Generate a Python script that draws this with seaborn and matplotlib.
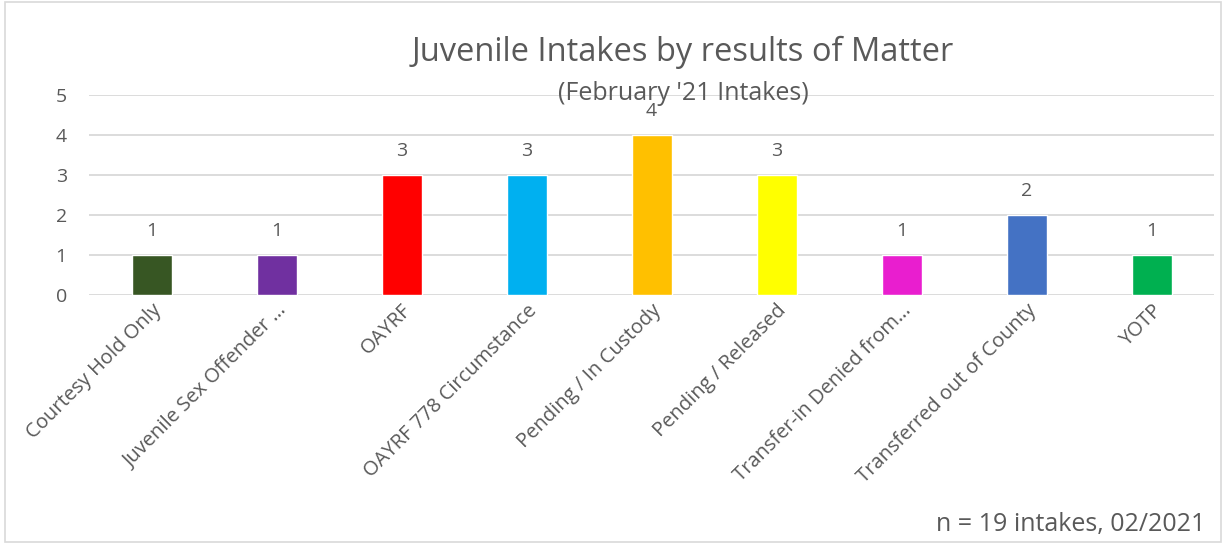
import matplotlib
matplotlib.use("Agg")
import matplotlib.pyplot as plt
import seaborn as sns
import pandas as pd
from matplotlib.patches import Rectangle

categories = ["Courtesy Hold Only", "Juvenile Sex Offender …", "OAYRF",
              "OAYRF 778 Circumstance", "Pending / In Custody", "Pending / Released",
              "Transfer-in Denied from…", "Transferred out of County", "YOTP"]
counts = [1, 1, 3, 3, 4, 3, 1, 2, 1]
colors = ["#375623", "#7030A0", "#FF0000", "#00B0F0", "#FFC000", "#FFFF00",
          "#E91ECF", "#4472C4", "#00B050"]
yticks = [0, 1, 2, 3, 4, 5]

sns.set_theme(style="white")
plt.rcParams['font.family'] = ['Open Sans', 'DejaVu Sans']
txt = "#595959"

df = pd.DataFrame({"cat": categories, "n": counts})
fig = plt.figure(figsize=(12.26, 5.44), dpi=100)
ax = fig.add_axes([89/1226, 1-295/544, (1214-89)/1226, 200/544])
sns.barplot(data=df, x="cat", y="n", hue="cat", palette=colors, width=0.32,
            legend=False, ax=ax, saturation=1)
ax.set_ylim(0, 5)
ax.set_yticks(yticks)
ax.set_xlim(-0.5, len(categories)-0.5)
ax.yaxis.grid(True, color="#D9D9D9", linewidth=1.3)
ax.set_axisbelow(True)
for s in ax.spines.values():
    s.set_visible(False)
ax.set_xlabel("")
ax.set_ylabel("")
ax.tick_params(axis="y", labelsize=14, colors=txt, length=0, pad=16)
ax.tick_params(axis="x", labelsize=14.5, colors=txt, length=0, pad=4)
plt.setp(ax.get_xticklabels(), rotation=45, ha="right", rotation_mode="anchor")
for i, v in enumerate(counts):
    ax.annotate(str(v), (i, v), xytext=(0, 11), textcoords="offset points",
                ha="center", va="bottom", fontsize=14, color=txt)

fig.text(683/1226, 1-52/544, "Juvenile Intakes by results of Matter", ha="center",
         va="center", fontsize=23.5, color=txt)
fig.text(683/1226, 1-93/544, "(February '21 Intakes)", ha="center", va="center",
         fontsize=18, color=txt)
fig.text(1205/1226, 1-525/544, "n = 19 intakes, 02/2021", ha="right", va="center",
         fontsize=18, color=txt)
fig.patches.append(Rectangle((0.004, 0.004), 0.992, 0.992, transform=fig.transFigure,
                             fill=False, edgecolor="#D9D9D9", linewidth=1.2))
fig.savefig("out.png", dpi=100)
